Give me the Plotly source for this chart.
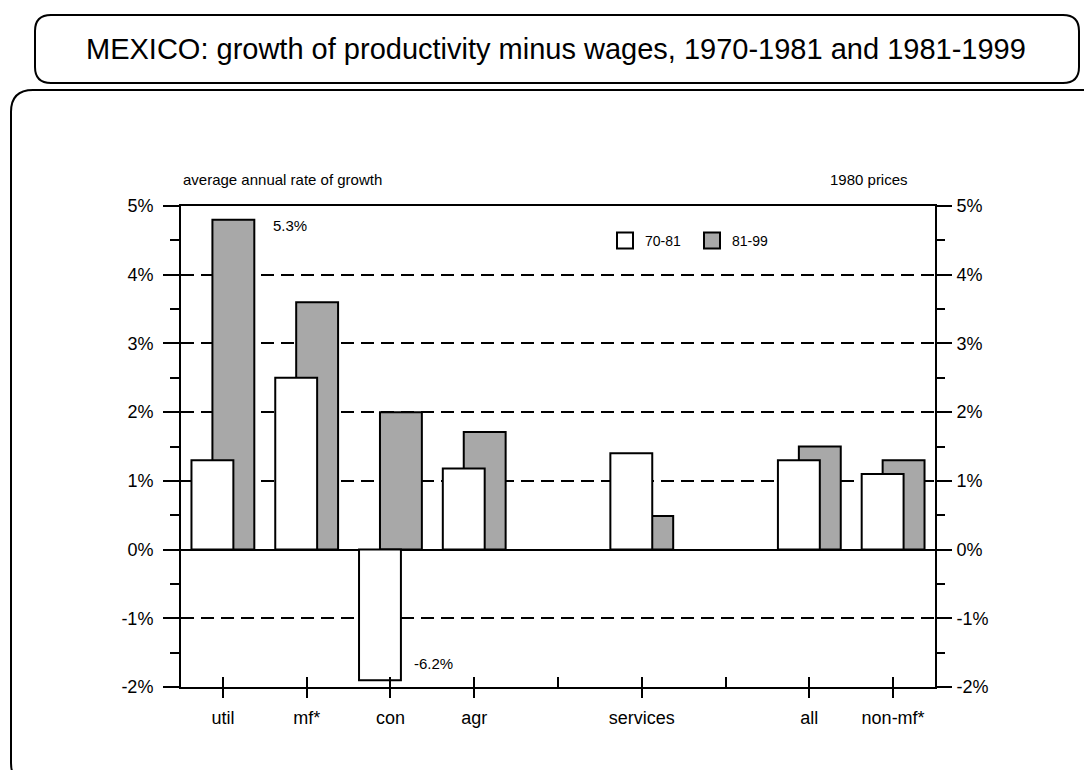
import plotly.graph_objects as go

# slots along the x axis (blank slots leave gaps like the original)
slots = ["util", "mf*", "con", "agr", "", "services", "", "all", "non-mf*"]
growth_70_81 = [1.3, 2.5, -1.9, 1.18, None, 1.4, None, 1.3, 1.1]
growth_81_99 = [4.8, 3.6, 2.0, 1.71, None, 0.49, None, 1.5, 1.3]
# off-scale values written next to bars
notes = {"util": "5.3%", "con": "-6.2%"}
y_ticks = [-2, -1, 0, 1, 2, 3, 4, 5]
y_labels = [f"{v}%" for v in y_ticks]

FONT = "Arial, Liberation Sans, sans-serif"
GRAY = "#a8a8a8"

xs = list(range(len(slots)))
labelled = [i for i, s in enumerate(slots) if s]

# plot area in window pixels; the page body adds an 8px margin
L, R, T, B = 181, 935, 206, 687
W, H = 1092, 770
OFF = 8


def px(x, y):
    return (x - L) / (R - L), (B - y) / (B - T)


def rounded(x0, y0, x1, y1, r):
    pts = [
        ("M", x0 + r, y0), ("L", x1 - r, y0), ("Q", x1, y0, x1, y0 + r),
        ("L", x1, y1 - r), ("Q", x1, y1, x1 - r, y1), ("L", x0 + r, y1),
        ("Q", x0, y1, x0, y1 - r), ("L", x0, y0 + r), ("Q", x0, y0, x0 + r, y0),
    ]
    path = ""
    for p in pts:
        cmd, coords = p[0], p[1:]
        conv = []
        for i in range(0, len(coords), 2):
            a, b = px(coords[i], coords[i + 1])
            conv.append(f"{a:.5f},{b:.5f}")
        path += cmd + " ".join(conv) + " "
    return path + "Z"


fig = go.Figure()

# gray first so the white bars sit in front (overlapping bars)
fig.add_trace(go.Bar(
    x=xs, y=growth_81_99, width=0.5, offset=-0.125,
    marker=dict(color=GRAY, line=dict(color="black", width=2)),
    showlegend=False, name="81-99"
))
fig.add_trace(go.Bar(
    x=xs, y=growth_70_81, width=0.5, offset=-0.375,
    marker=dict(color="white", line=dict(color="black", width=2)),
    showlegend=False, name="70-81"
))

# legend entries (bigger squares than bar legend symbols)
for name, col in [("70-81", "white"), ("81-99", GRAY)]:
    fig.add_trace(go.Scatter(
        x=[None], y=[None], mode="markers", name=name,
        marker=dict(symbol="square", size=16, color=col,
                    line=dict(color="black", width=2)),
        xaxis="x2", yaxis="y2"
    ))

for cat, txt in notes.items():
    i = slots.index(cat)
    yv = growth_81_99[i] if cat == "util" else growth_70_81[i]
    fig.add_annotation(
        x=i, y=yv, text=txt, showarrow=False, xref="x", yref="y",
        xshift=67 if cat == "util" else 43,
        yshift=-6 if cat == "util" else 17,
        font=dict(size=15, color="black", family=FONT)
    )

fig.add_annotation(x=0, y=1, xref="paper", yref="paper", xanchor="left",
                   yanchor="middle", yshift=27, text="average annual rate of growth",
                   showarrow=False, font=dict(size=15, color="black", family=FONT))
fig.add_annotation(x=px(910, 0)[0], y=1, xref="paper", yref="paper", xanchor="right",
                   yanchor="middle", yshift=27, text="1980 prices",
                   showarrow=False, font=dict(size=15, color="black", family=FONT))

# title inside its rounded box
tx, ty = px(556, 49)
fig.add_annotation(x=tx, y=ty, xref="paper", yref="paper", showarrow=False,
                   xanchor="center", yanchor="middle",
                   text="MEXICO: growth of productivity minus wages, 1970-1981 and 1981-1999",
                   font=dict(size=29, color="black", family=FONT))

fig.add_shape(type="path", xref="paper", yref="paper",
              path=rounded(35, 15, 1079, 83, 16), line=dict(color="black", width=2))
fig.add_shape(type="path", xref="paper", yref="paper",
              path=rounded(11, 90, 1104, 785, 22), line=dict(color="black", width=2))

axis_common = dict(linecolor="black", linewidth=2, tickcolor="black", tickwidth=2,
                   tickfont=dict(size=18, color="black", family=FONT))

fig.update_layout(
    width=W, height=H, autosize=False,
    margin=dict(l=L - OFF, r=W - (R - OFF), t=T - OFF, b=H - (B - OFF)),
    paper_bgcolor="white", plot_bgcolor="white",
    barmode="overlay",
    font=dict(family=FONT, color="black"),
    xaxis=dict(
        range=[-0.5, len(slots) - 0.5], tickmode="array",
        tickvals=labelled, ticktext=[slots[i] for i in labelled],
        ticks="outside", ticklen=9, showline=True, mirror=True,
        ticklabelstandoff=4,
        showgrid=False, zeroline=False, fixedrange=True, **axis_common
    ),
    xaxis2=dict(
        range=[-0.5, len(slots) - 0.5], overlaying="x", anchor="y", side="bottom",
        tickmode="array", tickvals=xs, ticks="inside", ticklen=10,
        showticklabels=False, showline=False, showgrid=False, zeroline=False,
        tickcolor="black", tickwidth=2
    ),
    yaxis=dict(
        range=[-2, 5], tickmode="array", tickvals=y_ticks, ticktext=y_labels,
        ticks="outside", ticklen=16,
        minor=dict(dtick=0.5, ticks="outside", ticklen=9, tickcolor="black",
                   tickwidth=2, showgrid=False),
        showline=True, mirror=True, showgrid=True, gridcolor="black",
        gridwidth=2, griddash="13px,7px", zeroline=True, zerolinecolor="black",
        zerolinewidth=2, ticklabelstandoff=6, **axis_common
    ),
    yaxis2=dict(
        range=[-2, 5], tickmode="array", tickvals=y_ticks, ticktext=y_labels,
        ticks="outside", ticklen=16,
        minor=dict(dtick=0.5, ticks="outside", ticklen=9, tickcolor="black",
                   tickwidth=2, showgrid=False),
        overlaying="y", side="right", anchor="x", showline=False,
        showgrid=False, zeroline=False, ticklabelstandoff=1, **axis_common
    ),
    legend=dict(
        orientation="h", x=px(605, 0)[0], y=px(0, 241)[1], yanchor="middle",
        xanchor="left", bgcolor="rgba(0,0,0,0)", entrywidth=42,
        font=dict(size=14, color="black", family=FONT)
    ),
)

fig.write_html("out.html")
